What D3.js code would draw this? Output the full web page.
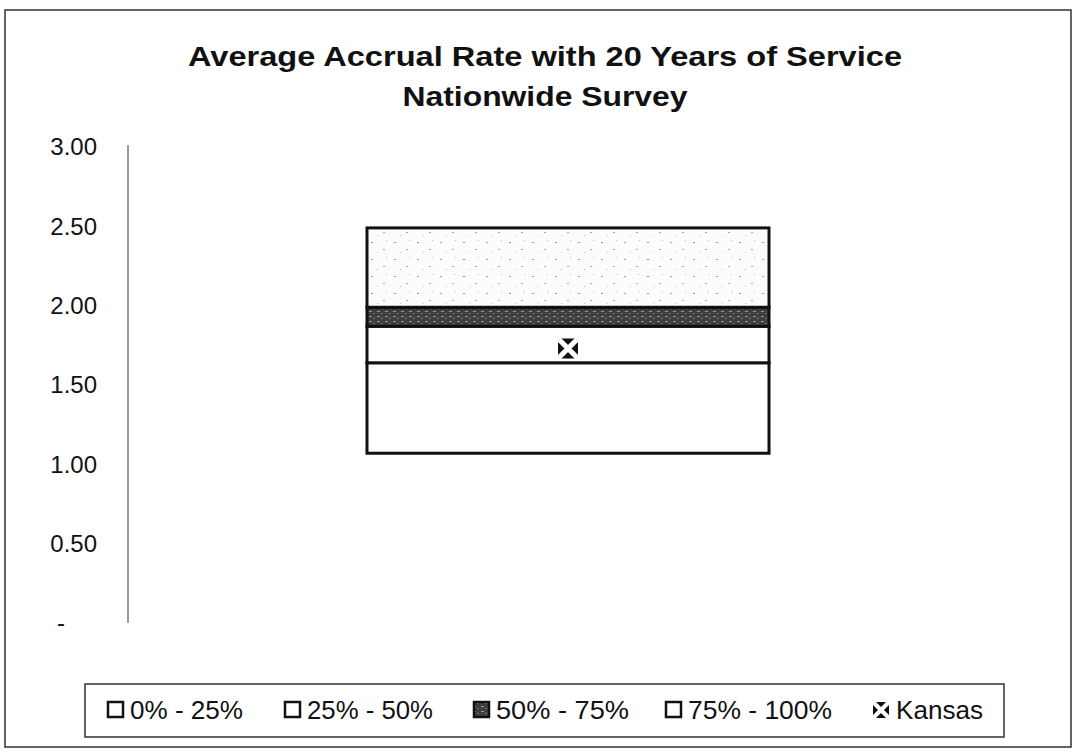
<!DOCTYPE html>
<html><head><meta charset="utf-8">
<script src="https://cdn.jsdelivr.net/npm/d3@7"></script>
<style>body{margin:0;background:#fff;} svg{display:block;font-family:"Liberation Sans",Arial,sans-serif;}</style>
</head><body>
<svg id="chart" width="1076" height="752"></svg>
<script>
const categories = ["Nationwide"];
const seriesNames = ["base", "0% - 25%", "25% - 50%", "50% - 75%", "75% - 100%"];
const seriesValues = [1.07, 0.57, 0.23, 0.12, 0.50];
const kansasValue = [1.73];
const tickValues = [0, 0.5, 1.0, 1.5, 2.0, 2.5, 3.0];
const tickLabels = ["-", "0.50", "1.00", "1.50", "2.00", "2.50", "3.00"];
const legendNames = ["0% - 25%", "25% - 50%", "50% - 75%", "75% - 100%", "Kansas"];
const titleLines = ["Average Accrual Rate with 20 Years of Service", "Nationwide Survey"];

const fills = {"base":"none","0% - 25%":"#fff","25% - 50%":"#fff","50% - 75%":"url(#darkPat)","75% - 100%":"url(#lightPat)"};

const svg = d3.select("#chart");
const defs = svg.append("defs");
const dp = defs.append("pattern").attr("id","darkPat").attr("width",8).attr("height",5).attr("patternUnits","userSpaceOnUse");
dp.append("rect").attr("width",8).attr("height",5).attr("fill","#3e3e3e");
dp.append("rect").attr("x",1).attr("y",1).attr("width",3).attr("height",1).attr("fill","#9a9a9a");
dp.append("rect").attr("x",5).attr("y",3).attr("width",2).attr("height",1).attr("fill","#777");
const lp = defs.append("pattern").attr("id","lightPat").attr("width",23).attr("height",17).attr("patternUnits","userSpaceOnUse");
lp.append("rect").attr("width",23).attr("height",17).attr("fill","#fcfcfc");
lp.append("rect").attr("x",3).attr("y",4).attr("width",2).attr("height",1).attr("fill","#9a9a9a");
lp.append("rect").attr("x",15).attr("y",11).attr("width",2).attr("height",1).attr("fill","#aaa");
lp.append("rect").attr("x",18).attr("y",2).attr("width",1).attr("height",1).attr("fill","#bbb");
lp.append("rect").attr("x",9).attr("y",14).attr("width",1).attr("height",1).attr("fill","#c4c4c4");

// outer frame
svg.append("rect").attr("x",5).attr("y",10).attr("width",1066).attr("height",737)
  .attr("fill","none").attr("stroke","#333").attr("stroke-width",1.5);

// title
const titleLen = [714, 285];
svg.append("g").selectAll("text").data(titleLines).join("text")
  .attr("x",545).attr("y",(d,i)=>66+i*40).attr("text-anchor","middle")
  .attr("font-size",27).attr("font-weight","bold").attr("fill","#111")
  .attr("textLength",(d,i)=>titleLen[i]).attr("lengthAdjust","spacingAndGlyphs").text(d=>d);

const y = d3.scaleLinear().domain([0,3]).range([623,147]);
const x = d3.scaleBand().domain(categories).range([128,1008]).paddingInner(0).paddingOuter(0.5945);

// axis line
svg.append("line").attr("x1",128).attr("x2",128).attr("y1",y(3)-2).attr("y2",y(0)).attr("stroke","#555").attr("stroke-width",1.2);
const yAxis = d3.axisLeft(y).tickValues(tickValues).tickSize(0).tickFormat((d,i)=>tickLabels[i]);
const ga = svg.append("g").attr("transform","translate(100,0)").call(yAxis);
ga.select(".domain").remove();
ga.selectAll("text").attr("font-size",24).attr("fill","#111").attr("font-family","Liberation Sans, Arial, sans-serif")
  .attr("text-anchor",(d)=>d===0?"middle":"end").attr("dx",(d)=>d===0?-36:0);

// stacked data
const row = {cat: categories[0]};
seriesNames.forEach((s,i)=>row[s]=seriesValues[i]);
const stack = d3.stack().keys(seriesNames)([row]);
svg.append("g").selectAll("g").data(stack).join("g")
  .selectAll("rect").data(d=>d.map(v=>({key:d.key,v}))).join("rect")
  .attr("x",d=>x(d.v.data.cat)).attr("width",x.bandwidth())
  .attr("y",d=>y(d.v[1])).attr("height",d=>y(d.v[0])-y(d.v[1]))
  .attr("fill",d=>fills[d.key])
  .attr("stroke",d=>d.key==="base"?"none":"#111").attr("stroke-width",3);

function kansasMarker(g, cx, cy, s){
  const h=s/2;
  g.append("rect").attr("x",cx-h).attr("y",cy-h).attr("width",s).attr("height",s).attr("fill","#111");
  g.append("path").attr("d",`M${cx-h},${cy-h}L${cx+h},${cy+h}M${cx+h},${cy-h}L${cx-h},${cy+h}`).attr("stroke","#fff").attr("stroke-width",s*0.26);
}
const kg = svg.append("g");
kansasValue.forEach(v=>kansasMarker(kg, x(categories[0])+x.bandwidth()/2, y(v), 20));

// legend
svg.append("rect").attr("x",85).attr("y",684).attr("width",919).attr("height",53).attr("fill","none").attr("stroke","#333").attr("stroke-width",1.5);
const legX = [107, 284, 473, 665, 873];
const legTextLen = [113, 126, 133, 144, 87];
const lg = svg.append("g");
legendNames.forEach((n,i)=>{
  const cx = legX[i]+8, cy = 710;
  if(i<4){
    lg.append("rect").attr("x",legX[i]+1).attr("y",cy-8).attr("width",15).attr("height",15)
      .attr("fill",i===2?"url(#darkPat)":"#fff").attr("stroke","#111").attr("stroke-width",2.5);
  } else {
    kansasMarker(lg, cx, cy, 16);
  }
  lg.append("text").attr("x",legX[i]+23).attr("y",cy+9).attr("font-size",25).attr("fill","#111")
    .attr("textLength",legTextLen[i]).attr("lengthAdjust","spacingAndGlyphs").text(n);
});
</script>
</body></html>
